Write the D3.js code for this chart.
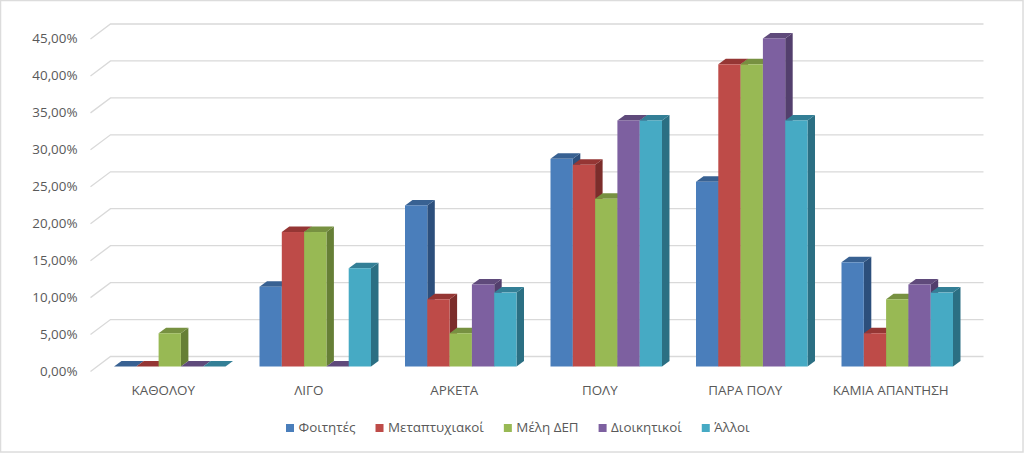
<!DOCTYPE html>
<html>
<head>
<meta charset="utf-8">
<script src="https://cdn.jsdelivr.net/npm/d3@7"></script>
<style>
html, body { margin: 0; padding: 0; background: #fff; }
svg { display: block; }
text { font-family: "Open Sans", sans-serif; fill: #595959; }
</style>
</head>
<body>
<script>
var width = 1024;
var height = 454;

var categories = ["ΚΑΘΟΛΟΥ", "ΛΙΓΟ", "ΑΡΚΕΤΑ", "ΠΟΛΥ", "ΠΑΡΑ ΠΟΛΥ", "ΚΑΜΙΑ ΑΠΑΝΤΗΣΗ"];
var seriesNames = ["Φοιτητές", "Μεταπτυχιακοί", "Μέλη ΔΕΠ", "Διοικητικοί", "Άλλοι"];
var foitites = [0, 10.8, 21.8, 28.1, 25, 14.1];
var metaptyxiakoi = [0, 18.2, 9.1, 27.3, 40.9, 4.5];
var meliDep = [4.5, 18.2, 4.5, 22.7, 40.9, 9.1];
var dioikitikoi = [0, 0, 11.1, 33.3, 44.4, 11.1];
var alloi = [0, 13.3, 10, 33.3, 33.3, 10];
var seriesValues = [foitites, metaptyxiakoi, meliDep, dioikitikoi, alloi];
var yTicks = [0, 5, 10, 15, 20, 25, 30, 35, 40, 45];

var frontColors = ["#4a7ebb", "#be4b48", "#98b954", "#7d60a0", "#46aac4"];
var sideColors = ["#2c4f7c", "#7c2d2b", "#667f36", "#533f6d", "#2b6f83"];
var topColors = ["#386192", "#953634", "#779141", "#5f4a7b", "#337f96"];
var gridColor = "#d9d9d9";

// bar depth, and the wall offset of the 3d floor
var barDx = 7.5, barDy = 5.5;
var wallDx = 20, wallDy = 15;

var svg = d3.select("body").append("svg")
    .attr("width", width)
    .attr("height", height);

svg.append("rect")
    .attr("x", 0.5)
    .attr("y", 0.5)
    .attr("width", width - 1.5)
    .attr("height", height - 2.5)
    .attr("fill", "#fff")
    .attr("stroke", "#dcdcdc")
    .attr("stroke-width", 1.5);

// x is the front edge of the floor, y is the plane the bar fronts stand on
var x = d3.scaleBand().domain(categories).range([90.5, 963.5]);
var y = d3.scaleLinear().domain([0, 45]).range([366.5, 34]);
var xSeries = d3.scaleBand().domain(seriesNames).range([0, 111.5]);
var barShift = 6.5 + (x.bandwidth() - xSeries.range()[1]) / 2;

// gridlines: short slanted piece then along the back wall
var floorLeft = x.range()[0];
var floorRight = x.range()[1];
var wallShift = 10;
svg.append("g").selectAll("path")
    .data(yTicks)
    .join("path")
    .attr("fill", "none")
    .attr("stroke", gridColor)
    .attr("stroke-width", 1.3)
    .attr("d", function(d) {
        var back = y(d) - wallShift;
        return "M" + floorLeft + "," + (back + wallDy) +
            "L" + (floorLeft + wallDx) + "," + back +
            "L" + (floorRight + wallDx) + "," + back;
    });

// bars, left to right so that each one covers the side of the previous one
var bars = [];
categories.forEach(function(c, ci) {
    seriesNames.forEach(function(s, si) {
        bars.push({cat: c, name: s, si: si, value: seriesValues[si][ci]});
    });
});

var bar = svg.append("g").selectAll("g")
    .data(bars)
    .join("g")
    .attr("transform", function(d) {
        return "translate(" + (x(d.cat) + barShift + xSeries(d.name)) + ",0)";
    });

var w = xSeries.bandwidth();
bar.append("path")
    .attr("fill", function(d) { return sideColors[d.si]; })
    .attr("d", function(d) {
        return "M" + w + "," + y(d.value) +
            "L" + (w + barDx) + "," + (y(d.value) - barDy) +
            "L" + (w + barDx) + "," + (y(0) - barDy) +
            "L" + w + "," + y(0) + "Z";
    });
bar.append("path")
    .attr("fill", function(d) { return topColors[d.si]; })
    .attr("d", function(d) {
        return "M0," + y(d.value) +
            "L" + barDx + "," + (y(d.value) - barDy) +
            "L" + (w + barDx) + "," + (y(d.value) - barDy) +
            "L" + w + "," + y(d.value) + "Z";
    });
bar.append("rect")
    .attr("x", 0)
    .attr("width", w)
    .attr("y", function(d) { return y(d.value); })
    .attr("height", function(d) { return y(0) - y(d.value); })
    .attr("fill", function(d) { return frontColors[d.si]; });

// axes
var yAxis = d3.axisLeft(y)
    .tickValues(yTicks)
    .tickSize(0)
    .tickPadding(0)
    .tickFormat(function(d) { return d3.format(".2f")(d).replace(".", ",") + "%"; });
var yG = svg.append("g")
    .attr("transform", "translate(77.5,4.5)")
    .call(yAxis);
yG.select(".domain").remove();
yG.selectAll("text").style("font-size", "13.4px").attr("fill", "#595959");

var xAxis = d3.axisBottom(x).tickSize(0).tickPadding(0);
var xG = svg.append("g")
    .attr("transform", "translate(0,385.5)")
    .call(xAxis);
xG.select(".domain").remove();
xG.selectAll("text").style("font-size", "13.4px").attr("fill", "#595959");

// legend
var legend = svg.append("g");
var legendX = 286;
seriesNames.forEach(function(name, i) {
    legend.append("rect")
        .attr("x", legendX)
        .attr("y", 424)
        .attr("width", 8)
        .attr("height", 8)
        .attr("fill", frontColors[i]);
    var label = legend.append("text")
        .attr("x", legendX + 12.5)
        .attr("y", 432)
        .style("font-size", "13.4px")
        .text(name);
    legendX += 12.5 + label.node().getComputedTextLength() + 20;
});
</script>
</body>
</html>
